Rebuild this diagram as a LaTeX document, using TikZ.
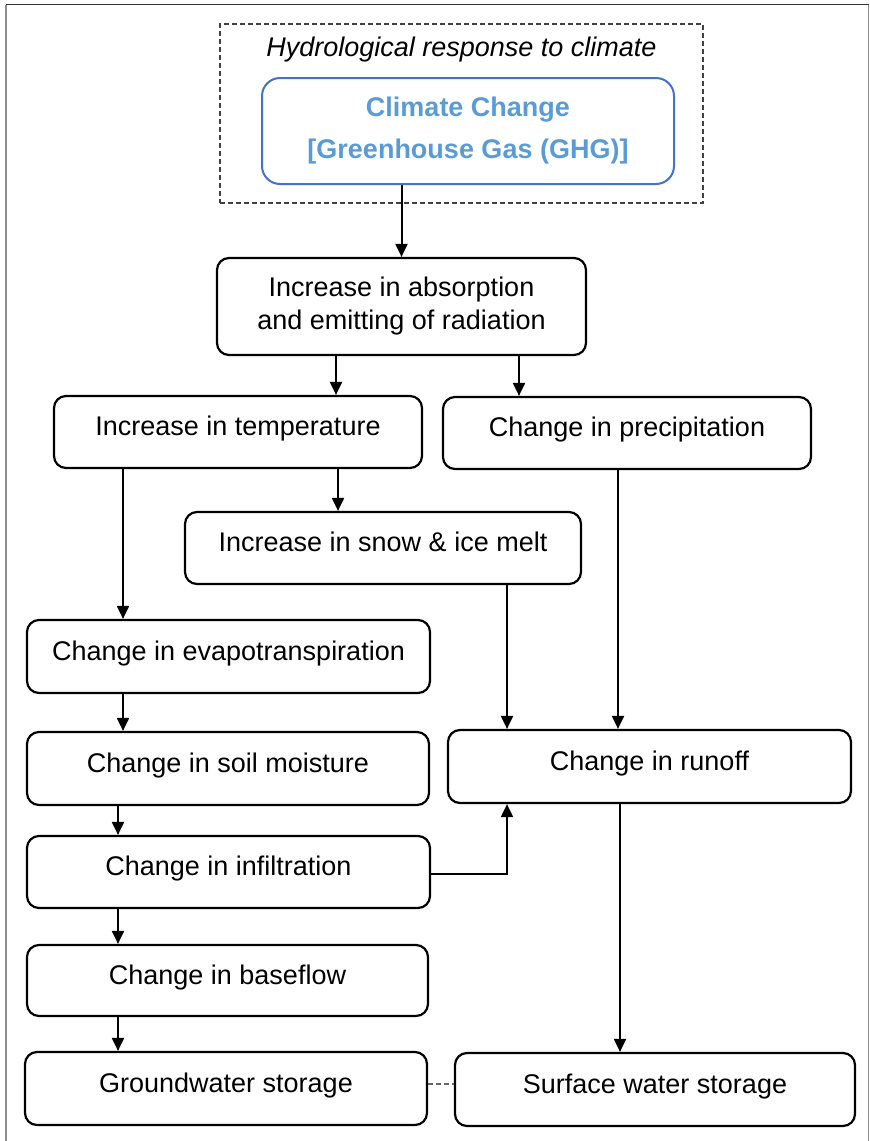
\documentclass[tikz,border=0pt]{standalone}
\usepackage{fontspec}
\setmainfont{Liberation Sans}
\usetikzlibrary{arrows.meta}
\definecolor{ccborder}{RGB}{68,114,196}
\definecolor{cctext}{RGB}{91,155,213}
\definecolor{framegray}{RGB}{140,140,140}
\tikzset{
  stepbox/.style={draw=black, line width=2.2pt, rounded corners=12pt, inner sep=0pt,
    font=\fontsize{27}{33}\selectfont, text height=19pt, text depth=12pt},
  twoline/.style={draw=black, line width=2.2pt, rounded corners=12pt, inner sep=0pt,
    font=\fontsize{27}{33}\selectfont, align=center},
  ccbox/.style={draw=ccborder, line width=2pt, rounded corners=18pt, inner sep=0pt,
    font=\fontsize{27}{42}\selectfont\bfseries, text=cctext, align=center},
  dashbox/.style={draw=black!75, line width=1.3pt, dash pattern=on 5pt off 3pt, inner sep=0pt},
  arr/.style={line width=2pt, -{Triangle[length=13pt,width=12pt]}},
  link/.style={draw=black!60, line width=1.3pt, dash pattern=on 5pt off 3pt}
}
\begin{document}
\begin{tikzpicture}[x=1pt,y=-1pt]
\useasboundingbox (0,0) rectangle (870,1141);
% outer frame
\draw[black!80, line width=1.5pt] (6,4.5) -- (868.5,4.5);
\draw[framegray, line width=1.5pt] (6,4.5) -- (6,1141);
\draw[framegray, line width=1.5pt] (868.5,4.5) -- (868.5,1141);

\node[dashbox, minimum width=483pt, minimum height=179pt] (dbox) at (461.5,113.5) {};
\node[font=\fontsize{27}{33}\selectfont\itshape, inner sep=0pt] (title) at (461.5,50) {Hydrological response to climate};
\node[ccbox, minimum width=412pt, minimum height=106pt] (cc) at (468,131) {Climate Change\\{}[Greenhouse Gas (GHG)]};

\node[twoline, minimum width=369pt, minimum height=97pt] (b2) at (401.5,306.5) {Increase in absorption\\and emitting of radiation};
\node[stepbox, minimum width=368pt, minimum height=72pt] (b3) at (238,432) {Increase in temperature};
\node[stepbox, minimum width=368pt, minimum height=72pt] (b4) at (627,433) {Change in precipitation};
\node[stepbox, minimum width=396pt, minimum height=72pt] (b5) at (383,548) {Increase in snow \& ice melt};
\node[stepbox, minimum width=403pt, minimum height=73pt] (b6) at (228.5,656.5) {Change in evapotranspiration};
\node[stepbox, minimum width=402pt, minimum height=73pt] (b7) at (228,768.5) {Change in soil moisture};
\node[stepbox, minimum width=403pt, minimum height=72pt] (b8) at (228.5,872) {Change in infiltration};
\node[stepbox, minimum width=401pt, minimum height=71pt] (b9) at (227.5,980.5) {Change in baseflow};
\node[stepbox, minimum width=402pt, minimum height=73pt] (b10) at (226,1088.5) {Groundwater storage};
\node[stepbox, minimum width=400pt, minimum height=73pt] (b11) at (655,1089.5) {Surface water storage};
\node[stepbox, minimum width=403pt, minimum height=73pt] (b12) at (649.5,766.5) {Change in runoff};

% connectors
\draw[arr] (b2.north |- cc.south) -- (b2.north);
\draw[arr] ([xshift=-65.5pt]b2.south) -- ([xshift=-65.5pt]b2.south |- b3.north);
\draw[arr] ([xshift=117.5pt]b2.south) -- ([xshift=117.5pt]b2.south |- b4.north);
\draw[arr] ([xshift=100pt]b3.south) -- ([xshift=100pt]b3.south |- b5.north);
\draw[arr] ([xshift=-115pt]b3.south) -- ([xshift=-115pt]b3.south |- b6.north);
\draw[arr] ([xshift=-105.5pt]b6.south) -- ([xshift=-105.5pt]b6.south |- b7.north);
\draw[arr] ([xshift=-110pt]b7.south) -- ([xshift=-110pt]b7.south |- b8.north);
\draw[arr] ([xshift=-110.5pt]b8.south) -- ([xshift=-110.5pt]b8.south |- b9.north);
\draw[arr] ([xshift=-109.5pt]b9.south) -- ([xshift=-109.5pt]b9.south |- b10.north);
\draw[arr] ([xshift=124pt]b5.south) -- ([xshift=124pt]b5.south |- b12.north);
\draw[arr] ([xshift=-9pt]b4.south) -- ([xshift=-9pt]b4.south |- b12.north);
\draw[arr] ([yshift=-2pt]b8.east) -| ([xshift=-142.5pt]b12.south);
\draw[arr] ([xshift=-29.5pt]b12.south) -- ([xshift=-29.5pt]b12.south |- b11.north);
\draw[link] ([yshift=4.5pt]b10.east) -- ([yshift=4.5pt]b10.east -| b11.west);
\end{tikzpicture}
\end{document}
